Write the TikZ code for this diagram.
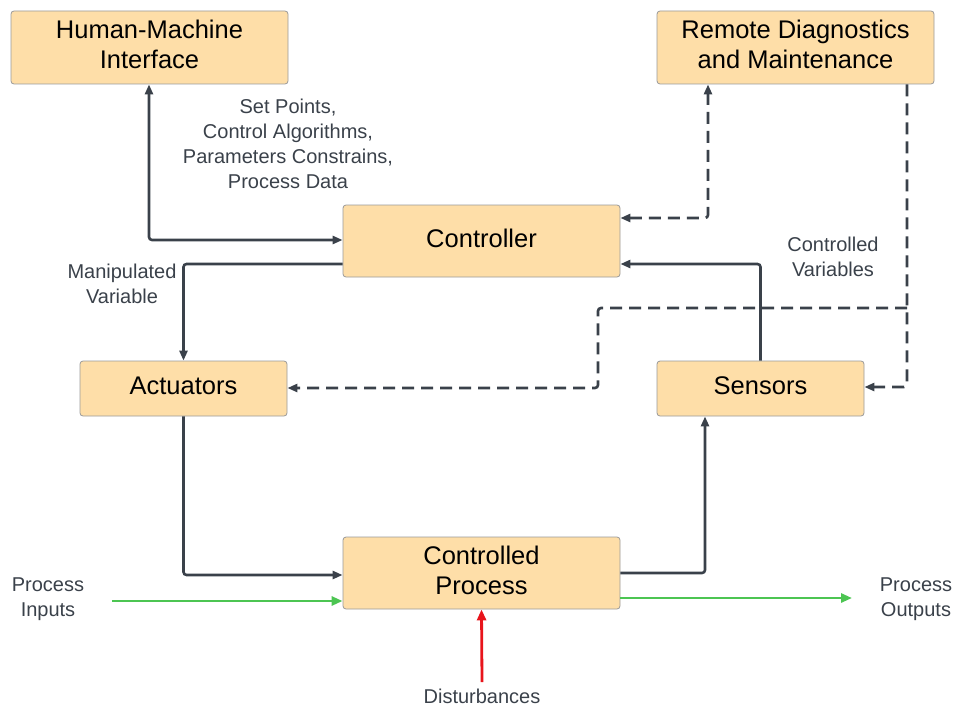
\documentclass[tikz,border=0pt]{standalone}
\usepackage{fontspec}
\setmainfont{Liberation Sans}
\usetikzlibrary{arrows.meta}
\definecolor{boxfill}{HTML}{FEDEA8}
\definecolor{boxline}{HTML}{9A9A9A}
\definecolor{wire}{HTML}{3A414A}
\definecolor{flowgreen}{HTML}{4CC552}
\definecolor{flowred}{HTML}{E8141B}
\newcommand{\lift}[1]{\raisebox{2.5pt}{\begin{tabular}{@{}c@{}}#1\end{tabular}}}
\begin{document}
\begin{tikzpicture}[x=1pt,y=-1pt,
  block/.style={draw=boxline,line width=0.8pt,fill=boxfill,rounded corners=3pt,
    inner sep=0pt,align=center,font=\fontsize{25.5}{31}\selectfont,text=black},
  note/.style={align=center,font=\fontsize{20}{25}\selectfont,text=wire,inner sep=0pt},
  tip/.style={-{Triangle[length=10pt,width=8pt]}},
  wireline/.style={draw=wire,line width=2.6pt,rounded corners=3pt},
  dashline/.style={wireline,dash pattern=on 12pt off 7pt},
  flow/.style={line width=2.8pt,-{Triangle[length=11pt,width=9pt]}}]
\useasboundingbox (0,0) rectangle (957,706);

% boxes
\node[block,minimum width=277pt,minimum height=73pt] (hmi) at (149.5,47.5) {\lift{Human-Machine\\[-1pt]Interface}};
\node[block,minimum width=277pt,minimum height=73pt] (rdm) at (795.5,47.5) {\lift{Remote Diagnostics\\[-1pt]and Maintenance}};
\node[block,minimum width=277pt,minimum height=72pt] (ctl) at (481.5,241) {\lift{Controller}};
\node[block,minimum width=207pt,minimum height=55pt] (act) at (183.5,388.5) {\lift{Actuators}};
\node[block,minimum width=207pt,minimum height=55pt] (sen) at (760.5,388.5) {\lift{Sensors}};
\node[block,minimum width=277pt,minimum height=72pt] (proc) at (481.5,573) {\lift{Controlled\\[-1pt]Process}};

% labels
\node[note] (lset) at (288,144) {Set Points,\\Control Algorithms,\\Parameters Constrains,\\Process Data};
\node[note] (lman) at (122,284) {Manipulated\\Variable};
\node[note] (lcv) at (833,257) {Controlled\\Variables};
\node[note] (lin) at (48,599) {Process\\Inputs};
\node[note] (lout) at (916,599) {Process\\Outputs};
\node[note,anchor=base] (ldis) at (482,703) {Disturbances};

% free ends and bends
\coordinate (inS) at (112,601);
\coordinate (outE) at (852,598);
\coordinate (disS) at (482,682);
\coordinate (jn) at (907,308);

% solid control loop
\draw[wireline,{Triangle[length=10pt,width=8pt]}-{Triangle[length=10pt,width=8pt]}]
  (hmi.south -| 149,0) |- (ctl.west |- 0,240);
\draw[wireline,tip] (ctl.west |- 0,264) -| (act.north);
\draw[wireline,tip] (act.south) |- (proc.west |- 0,575);
\draw[wireline,tip] (proc.east |- 0,573) -| (sen.south -| 705,0);
\draw[wireline,tip] (sen.north) |- (ctl.east |- 0,264);

% dashed maintenance links
\draw[dashline,{Triangle[length=10pt,width=8pt]}-{Triangle[length=10pt,width=8pt]}]
  (ctl.east |- 0,218) -| (rdm.south -| 708,0);
\draw[dashline,tip] (rdm.south -| 907,0) |- (sen.east |- 0,387);
\draw[dashline,tip] (jn) -| (598,348) |- (act.east |- 0,388);

% process flows
\draw[flow,draw=flowgreen,fill=flowgreen] (inS) -- (proc.west |- inS);
\draw[flow,draw=flowgreen,fill=flowgreen] (proc.east |- outE) -- (outE);
\draw[flow,draw=flowred,fill=flowred] (disS) -- (proc.south);
\end{tikzpicture}
\end{document}
